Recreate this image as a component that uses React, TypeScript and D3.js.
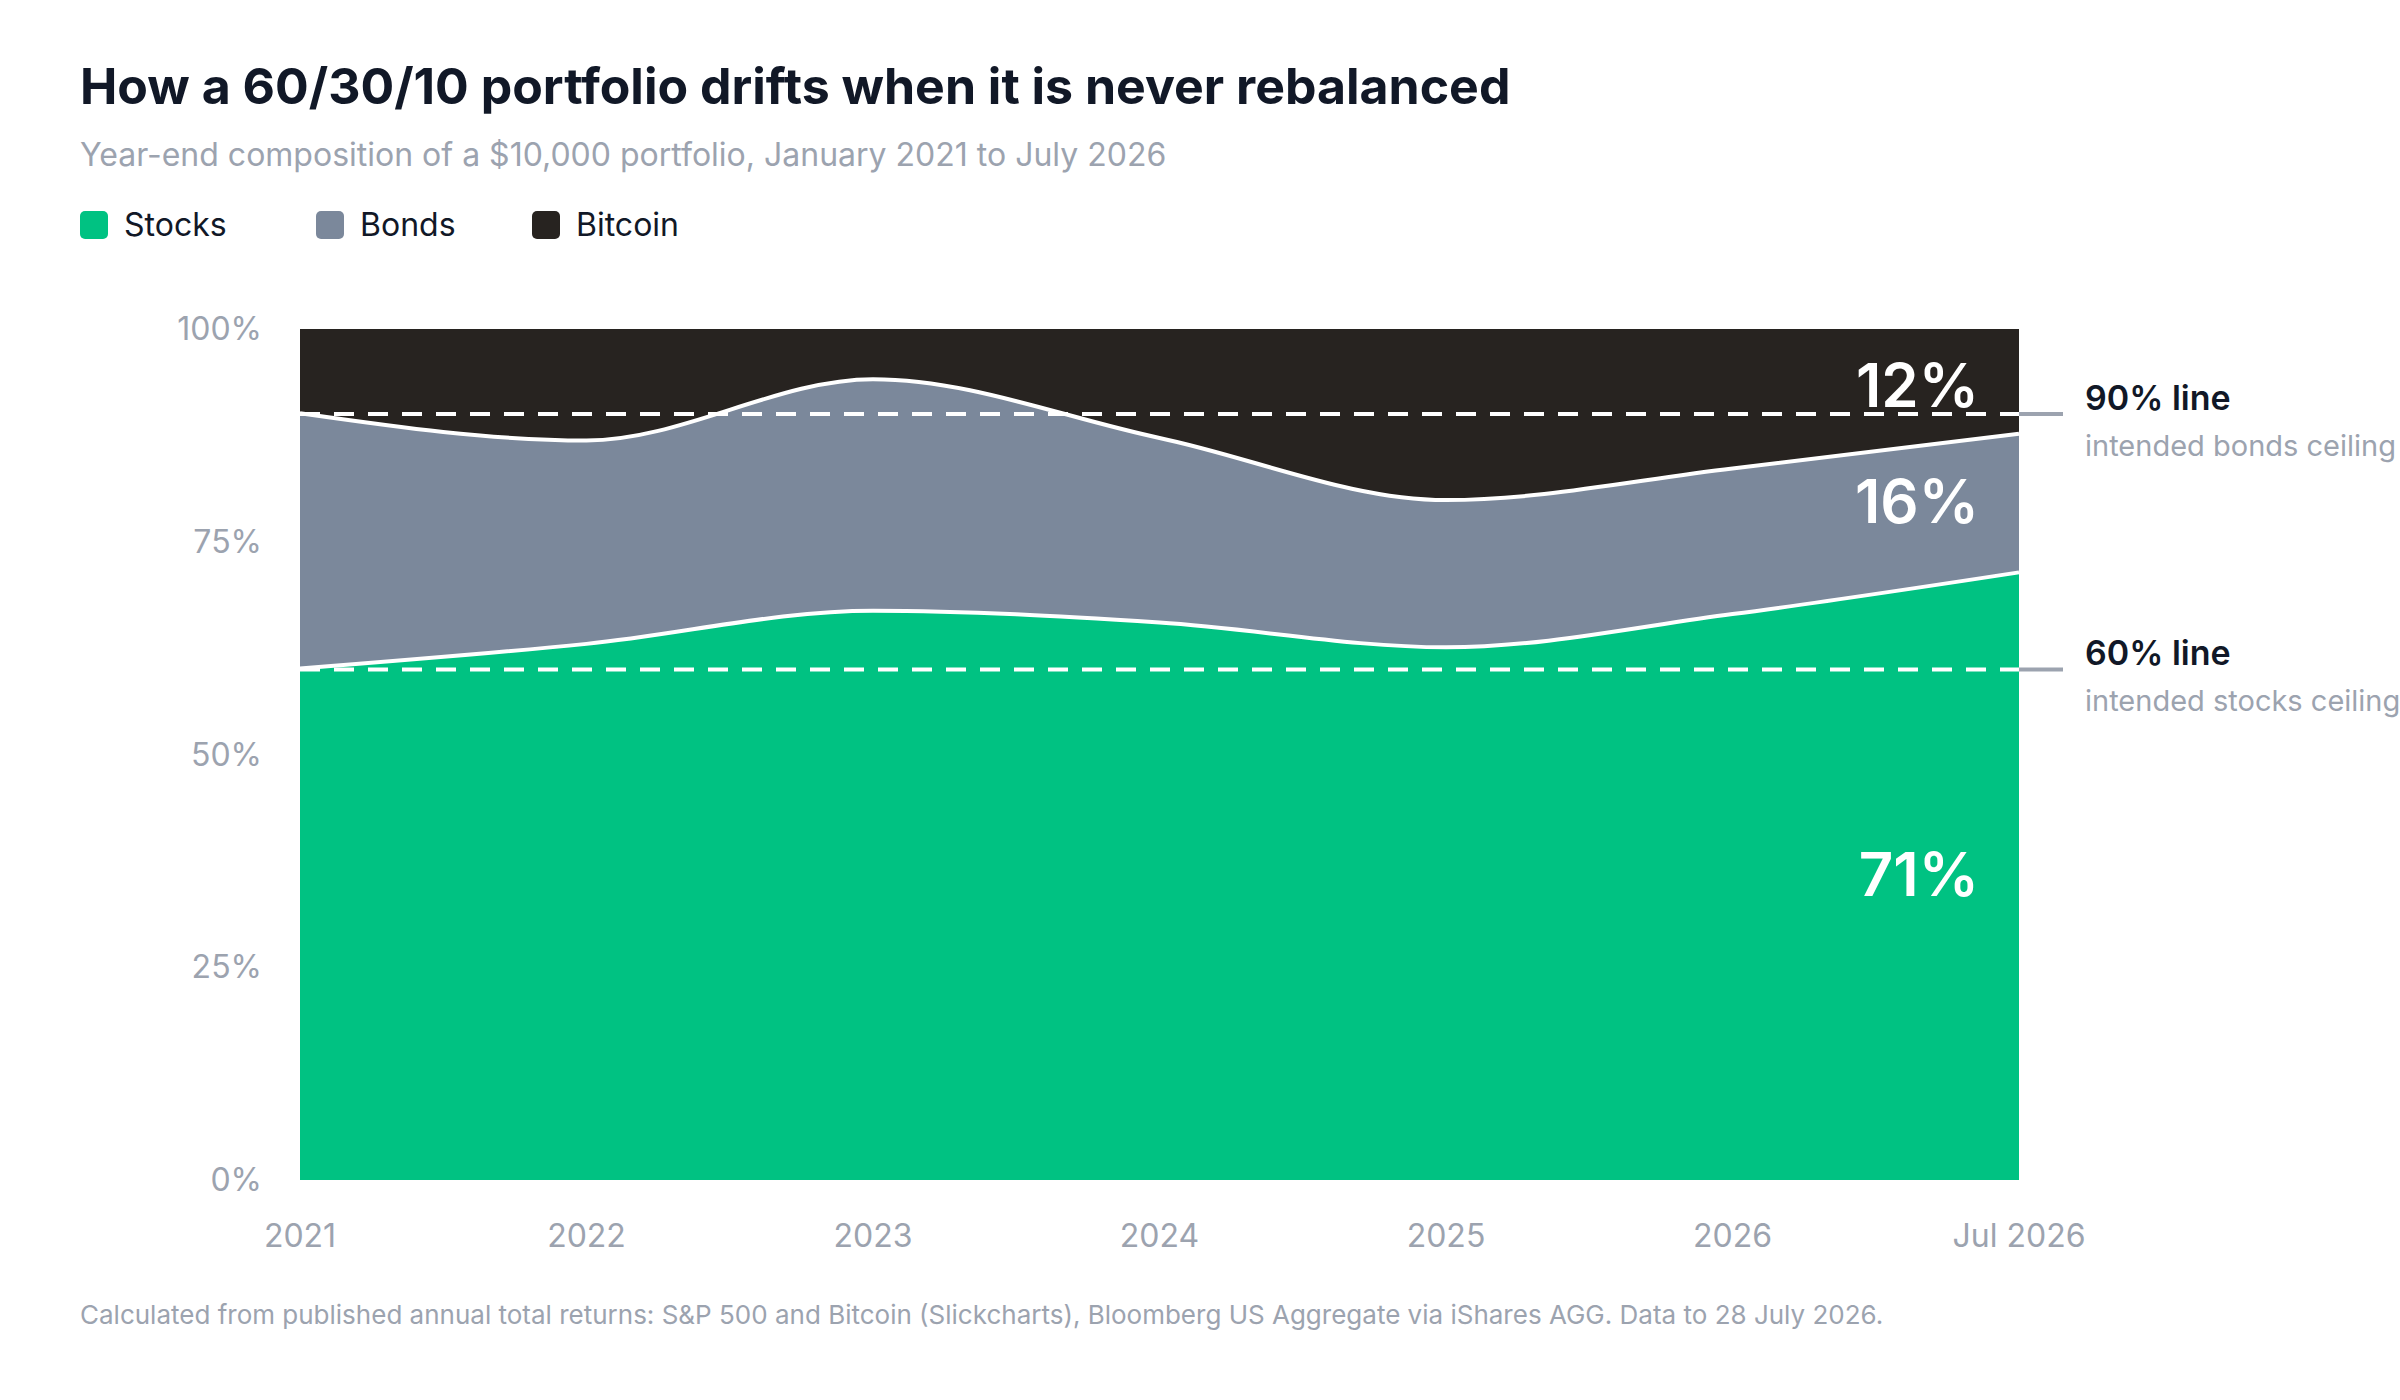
import React from 'react';
import * as d3 from 'd3';

const periods = ['2021', '2022', '2023', '2024', '2025', '2026', 'Jul 2026'];
const stocks = [60.1, 63.0, 66.9, 65.5, 62.6, 66.5, 71.4];
const bonds = [30.0, 23.9, 27.2, 21.7, 17.3, 17.1, 16.3];
const bitcoin = stocks.map((s, i) => 100 - s - bonds[i]);
const yTicks = [0, 25, 50, 75, 100];
const endLabels = ['71%', '16%', '12%'];

const W = 2400;
const H = 1400;
const marginLeft = 300;
const marginRight = 381;
const marginTop = 329;
const marginBottom = 220;

const colors = { stocks: '#00c282', bonds: '#7b889b', bitcoin: '#272320' };
const font = 'Inter, "Noto Sans", sans-serif';

const App: React.FC = () => {
  const x = d3.scalePoint<string>().domain(periods).range([marginLeft, W - marginRight]);
  const y = d3.scaleLinear().domain([0, 100]).range([H - marginBottom, marginTop]);

  const rows = periods.map((p, i) => ({ p, s: stocks[i], b: bonds[i], c: bitcoin[i] }));
  type Row = typeof rows[number];
  const curve = d3.curveMonotoneX;

  const stockArea = d3.area<Row>().x(d => x(d.p)!).y0(y(0)).y1(d => y(d.s)).curve(curve);
  const bondArea = d3.area<Row>().x(d => x(d.p)!).y0(d => y(d.s)).y1(d => y(d.s + d.b)).curve(curve);
  const btcArea = d3.area<Row>().x(d => x(d.p)!).y0(d => y(d.s + d.b)).y1(y(100)).curve(curve);
  const stockLine = d3.line<Row>().x(d => x(d.p)!).y(d => y(d.s)).curve(curve);
  const bondLine = d3.line<Row>().x(d => x(d.p)!).y(d => y(d.s + d.b)).curve(curve);

  const last = rows[rows.length - 1];
  const xr = W - marginRight;
  const labelY = [y(last.s / 2) , y(last.s + last.b / 2), y(last.s + last.b + last.c / 2) + 6];

  const legend = [
    { name: 'Stocks', color: colors.stocks, x: 80 },
    { name: 'Bonds', color: colors.bonds, x: 316 },
    { name: 'Bitcoin', color: colors.bitcoin, x: 532 },
  ];

  const refs = [
    { v: 90, title: '90% line', sub: 'intended bonds ceiling' },
    { v: 60, title: '60% line', sub: 'intended stocks ceiling' },
  ];

  return (
    <svg width={W} height={H} style={{ position: 'absolute', left: 0, top: 0, background: '#fff', fontFamily: font }}>
      <text x={80} y={104} fontSize={50} fontWeight={700} fill="#111827">How a 60/30/10 portfolio drifts when it is never rebalanced</text>
      <text x={80} y={166} fontSize={32} fill="#9ca3af">Year-end composition of a $10,000 portfolio, January 2021 to July 2026</text>
      {legend.map(l => (
        <g key={l.name}>
          <rect x={l.x} y={211} width={28} height={28} rx={5} fill={l.color} />
          <text x={l.x + 44} y={236} fontSize={32} fill="#111827">{l.name}</text>
        </g>
      ))}

      <path d={stockArea(rows)!} fill={colors.stocks} />
      <path d={bondArea(rows)!} fill={colors.bonds} />
      <path d={btcArea(rows)!} fill={colors.bitcoin} />
      <path d={stockLine(rows)!} fill="none" stroke="#fff" strokeWidth={4} />
      <path d={bondLine(rows)!} fill="none" stroke="#fff" strokeWidth={4} />

      {refs.map(r => (
        <g key={r.v}>
          <line x1={marginLeft} x2={xr} y1={y(r.v)} y2={y(r.v)} stroke="#fff" strokeWidth={4} strokeDasharray="20 14" />
          <line x1={xr} x2={xr + 44} y1={y(r.v)} y2={y(r.v)} stroke="#9ca3af" strokeWidth={4} />
          <text x={xr + 66} y={y(r.v) - 4} fontSize={34} fontWeight={600} fill="#111827">{r.title}</text>
          <text x={xr + 66} y={y(r.v) + 42} fontSize={29} fill="#9ca3af">{r.sub}</text>
        </g>
      ))}

      {endLabels.map((t, i) => (
        <text key={t} x={xr - 40} y={labelY[i] + 20} textAnchor="end" fontSize={60} fontWeight={600} fill="#fff">{t}</text>
      ))}

      {yTicks.map(t => (
        <text key={t} x={262} y={y(t) + 11} textAnchor="end" fontSize={32} fill="#9ca3af">{t}%</text>
      ))}
      {periods.map(p => (
        <text key={p} x={x(p)!} y={1247} textAnchor="middle" fontSize={32} fill="#9ca3af">{p}</text>
      ))}

      <text x={80} y={1324} fontSize={26} fill="#9ca3af">Calculated from published annual total returns: S&amp;P 500 and Bitcoin (Slickcharts), Bloomberg US Aggregate via iShares AGG. Data to 28 July 2026.</text>
    </svg>
  );
};

export default App;
